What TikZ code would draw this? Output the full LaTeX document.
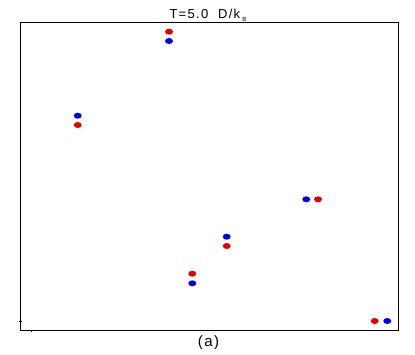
\documentclass[tikz,border=0pt]{standalone}
\usepackage{fontspec}
\setmainfont{Liberation Sans}
\newfontfamily\spacedsans[LetterSpace=10]{Liberation Sans}
\begin{document}
\begin{tikzpicture}[x=1pt,y=-1pt,
  reddot/.style={fill=red!90!black},
  bluedot/.style={fill=blue!90!black},
  frameline/.style={line width=1pt, black},
  tickline/.style={line width=0.6pt, black}]
\useasboundingbox (0,0) rectangle (415,354);
% frame
\coordinate (tl) at (20,22.7);
\coordinate (br) at (398.5,330);
\draw[frameline] (tl) rectangle (br);
% small ticks
\coordinate (lt1) at (18.5,321);
\coordinate (lt2) at (22,321);
\draw[tickline] (lt1) -- (lt2);
\coordinate (bt1) at (31.7,330);
\coordinate (bt2) at (31.7,332);
\draw[tickline] (bt1) -- (bt2);
% title
\node[font=\fontsize{13}{15}\selectfont\spacedsans, anchor=base] (title) at (208,18.3)
  {T=5.0\ \ D/k\raisebox{-0.4ex}{\fontsize{6}{7}\selectfont\ B}};
% label
\node[font=\fontsize{15}{17}\selectfont\spacedsans, anchor=base] (lab) at (208.5,346.5) {(a)};
% dots
\fill[reddot]  (169,31.7) ellipse (4 and 3);
\fill[bluedot] (169,41) ellipse (4 and 3);
\fill[bluedot] (77.7,115.7) ellipse (4 and 3);
\fill[reddot]  (77.7,125) ellipse (4 and 3);
\fill[bluedot] (306.3,199.3) ellipse (4 and 3);
\fill[reddot]  (318,199.3) ellipse (4 and 3);
\fill[bluedot] (226.7,236.7) ellipse (4 and 3);
\fill[reddot]  (226.7,246) ellipse (4 and 3);
\fill[reddot]  (192.3,273.7) ellipse (4 and 3);
\fill[bluedot] (192.3,283.3) ellipse (4 and 3);
\fill[reddot]  (374.7,321) ellipse (4 and 3);
\fill[bluedot] (387.3,321) ellipse (4 and 3);
\end{tikzpicture}
\end{document}
